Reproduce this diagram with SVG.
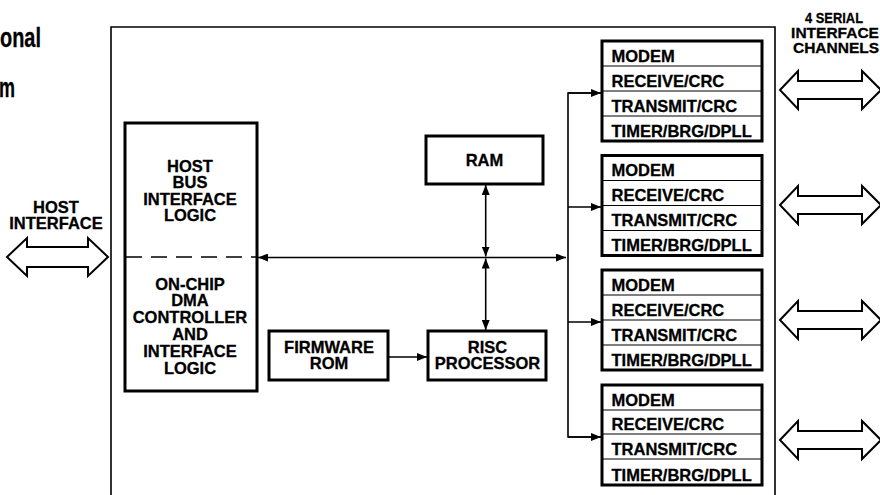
<svg xmlns="http://www.w3.org/2000/svg" width="880" height="495" viewBox="0 0 880 495">
<defs>
<marker id="ah" viewBox="0 0 10 8" refX="10" refY="4" markerWidth="10" markerHeight="8" markerUnits="userSpaceOnUse" orient="auto-start-reverse">
<path d="M0,0 L10,4 L0,8 z" fill="#000"/>
</marker>
</defs>
<style>
text{font-family:"Liberation Sans",Arial,Helvetica,sans-serif;font-weight:bold;fill:#000;stroke:#000;stroke-width:0.3}
.t{font-size:16.5px;text-anchor:middle}
.r{font-size:16.5px}
.thick{fill:#fff;stroke:#000;stroke-width:3}
.thin{fill:none;stroke:#000;stroke-width:1}
.line{fill:none;stroke:#000;stroke-width:1.6}
.dbl{fill:#fff;stroke:#000;stroke-width:2;stroke-linejoin:miter}
</style>
<rect width="880" height="495" fill="#fff"/>
<g id="title">
<text x="0" y="47" style="font-size:27px" textLength="41" lengthAdjust="spacingAndGlyphs">onal</text>
<text x="-1" y="97" style="font-size:27px" textLength="16" lengthAdjust="spacingAndGlyphs">m</text>
</g>
<g id="chip">
<path d="M111,500 L111,27 L775,27 L775,500" class="line"/>
</g>
<g id="host-interface">
<text class="t" x="56" y="213">HOST</text>
<text class="t" x="56" y="229">INTERFACE</text>
<polygon class="dbl" points="7,257 27,238 27,247 88,247 88,238 108,257 88,276 88,267 27,267 27,276"/>
</g>
<g id="host-box">
<rect class="thick" x="125" y="123" width="132" height="268"/>
<line x1="126" y1="257" x2="256" y2="257" stroke="#000" stroke-width="1.6" stroke-dasharray="16 9"/>
<text class="t" x="190" y="172">HOST</text>
<text class="t" x="190" y="188.3">BUS</text>
<text class="t" x="190" y="204.6">INTERFACE</text>
<text class="t" x="190" y="221">LOGIC</text>
<text class="t" x="190" y="289.5">ON-CHIP</text>
<text class="t" x="190" y="306.3">DMA</text>
<text class="t" x="190" y="323.1">CONTROLLER</text>
<text class="t" x="190" y="339.9">AND</text>
<text class="t" x="190" y="356.7">INTERFACE</text>
<text class="t" x="190" y="373.5">LOGIC</text>
</g>
<g id="ram">
<rect class="thick" x="426" y="136" width="117" height="48"/>
<text class="t" x="484.5" y="166">RAM</text>
</g>
<g id="firmware-rom">
<rect class="thick" x="269" y="331" width="119" height="49"/>
<text class="t" x="329" y="353">FIRMWARE</text>
<text class="t" x="329" y="369">ROM</text>
</g>
<g id="risc">
<rect class="thick" x="428" y="331" width="118" height="49"/>
<text class="t" x="487.5" y="353">RISC</text>
<text class="t" x="487.5" y="369">PROCESSOR</text>
</g>
<g id="serial-label">
<text x="834" y="23.3" style="font-size:15.5px;text-anchor:middle" textLength="58" lengthAdjust="spacingAndGlyphs">4 SERIAL</text>
<text x="835" y="38.3" style="font-size:15.5px;text-anchor:middle">INTERFACE</text>
<text x="836" y="53.3" style="font-size:15.5px;text-anchor:middle">CHANNELS</text>
</g>
<g id="channel-1">
<rect class="thick" x="602" y="41" width="160" height="100"/>
<path class="thin" d="M603,66 H761 M603,91 H761 M603,116 H761"/>
<text class="r" x="611.5" y="61.5">MODEM</text>
<text class="r" x="611.5" y="86.5">RECEIVE/CRC</text>
<text class="r" x="611.5" y="111.5">TRANSMIT/CRC</text>
<text class="r" x="611.5" y="136.5">TIMER/BRG/DPLL</text>
</g>
<g id="channel-2">
<rect class="thick" x="602" y="155.5" width="160" height="100"/>
<path class="thin" d="M603,180.5 H761 M603,205.5 H761 M603,230.5 H761"/>
<text class="r" x="611.5" y="176">MODEM</text>
<text class="r" x="611.5" y="201">RECEIVE/CRC</text>
<text class="r" x="611.5" y="226">TRANSMIT/CRC</text>
<text class="r" x="611.5" y="251">TIMER/BRG/DPLL</text>
</g>
<g id="channel-3">
<rect class="thick" x="602" y="270" width="160" height="100"/>
<path class="thin" d="M603,295 H761 M603,320 H761 M603,345 H761"/>
<text class="r" x="611.5" y="290.5">MODEM</text>
<text class="r" x="611.5" y="315.5">RECEIVE/CRC</text>
<text class="r" x="611.5" y="340.5">TRANSMIT/CRC</text>
<text class="r" x="611.5" y="365.5">TIMER/BRG/DPLL</text>
</g>
<g id="channel-4">
<rect class="thick" x="602" y="385" width="160" height="100"/>
<path class="thin" d="M603,410 H761 M603,434 H761 M603,459 H761"/>
<text class="r" x="611.5" y="405.5">MODEM</text>
<text class="r" x="611.5" y="430">RECEIVE/CRC</text>
<text class="r" x="611.5" y="455">TRANSMIT/CRC</text>
<text class="r" x="611.5" y="480.5">TIMER/BRG/DPLL</text>
</g>
<g id="serial-arrows">
<polygon class="dbl" points="780,90 798,71 798,81 862,81 862,71 881,90 862,109 862,99 798,99 798,109"/>
<polygon class="dbl" points="780,205 798,186 798,196 862,196 862,186 881,205 862,224 862,214 798,214 798,224"/>
<polygon class="dbl" points="780,320 798,301 798,311 862,311 862,301 881,320 862,339 862,329 798,329 798,339"/>
<polygon class="dbl" points="780,440 798,421 798,431 862,431 862,421 881,440 862,459 862,449 798,449 798,459"/>
</g>
<g id="connectors">
<line class="line" x1="258" y1="257.5" x2="566" y2="257.5" marker-start="url(#ah)" marker-end="url(#ah)"/>
<line class="line" x1="485.7" y1="185" x2="485.7" y2="256.5" marker-start="url(#ah)" marker-end="url(#ah)"/>
<line class="line" x1="485.7" y1="258.5" x2="485.7" y2="330" marker-start="url(#ah)" marker-end="url(#ah)"/>
<line class="line" x1="388" y1="357" x2="427" y2="357" marker-end="url(#ah)"/>
<path class="line" d="M602,93 H568 V437 H602"/>
<line class="line" x1="568" y1="93" x2="601" y2="93" marker-end="url(#ah)"/>
<line class="line" x1="568" y1="207" x2="601" y2="207" marker-end="url(#ah)"/>
<line class="line" x1="568" y1="322" x2="601" y2="322" marker-end="url(#ah)"/>
<line class="line" x1="568" y1="437" x2="601" y2="437" marker-end="url(#ah)"/>
</g>
</svg>
